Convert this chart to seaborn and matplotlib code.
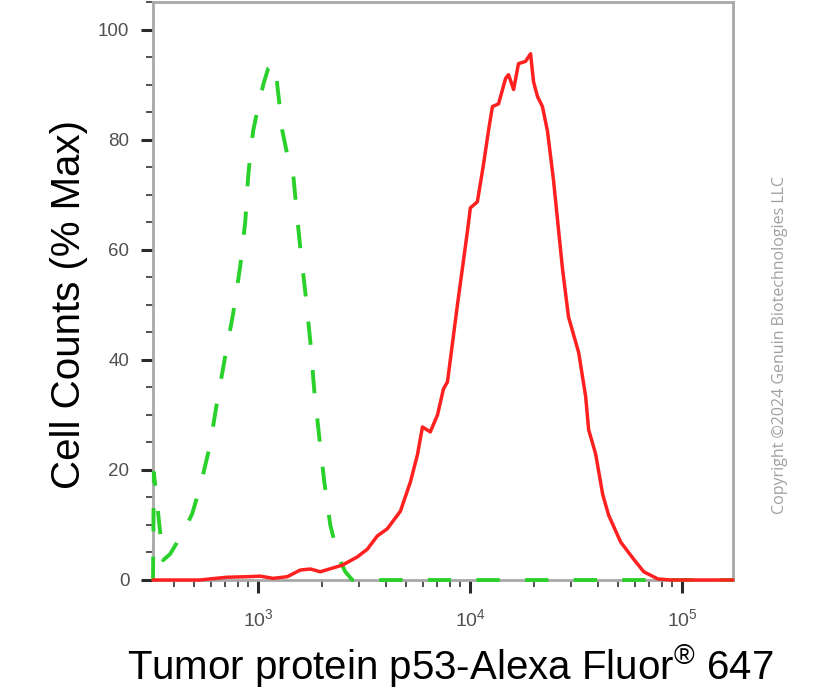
import matplotlib
matplotlib.use("Agg")
import matplotlib.pyplot as plt
import seaborn as sns
import numpy as np
from matplotlib.ticker import LogLocator, MultipleLocator, NullFormatter

# ---- data ----
green_x = [319, 322, 356, 384, 443, 488, 532, 593, 640, 698,
           762, 822, 869, 897, 916, 946, 989, 1057, 1114, 1202,
           1230, 1271, 1297, 1371, 1462, 1514, 1578, 1667, 1762, 1841,
           1941, 2051, 2188, 2388, 2576, 2780, 173780]
green_y = [0, 19.5, 3.6, 4.7, 8.7, 12, 16.9, 24.5, 32.4, 40.5,
           48.4, 56.9, 65.1, 73.3, 76.9, 81.5, 85.1, 90, 92.9, 93.8,
           90, 85.1, 81.8, 77.3, 73.8, 67.5, 60.5, 52.4, 43.3, 34.2,
           26, 17.8, 10, 4.2, 1.5, 0, 0]

red_x = [319, 532, 593, 714, 887, 1021, 1178, 1371, 1578, 1762,
         1963, 2259, 2495, 2938, 3273, 3648, 4064, 4688, 5224, 5636,
         5957, 6486, 7015, 7482, 7816, 8710, 9705, 10023, 10814, 11561,
         12190, 12735, 13614, 14689, 15171, 16032, 16904, 18239, 19275, 19907,
         20797, 21928, 23174, 24717, 26122, 27290, 29107, 32509, 35075, 36224,
         39084, 42170, 44978, 51286, 59020, 65917, 76736, 88308, 173780]
red_y = [0, 0, 0.2, 0.5, 0.6, 0.7, 0.3, 0.6, 1.8, 2.0,
         1.5, 2.2, 2.7, 4.2, 5.6, 8.0, 9.3, 12.5, 17.8, 22.7,
         27.8, 26.9, 30, 34.7, 36, 50, 63.3, 67.6, 68.7, 75.5,
         81.5, 86, 86.5, 91.1, 91.8, 89.1, 93.8, 94.2, 95.6, 90.5,
         87.8, 86, 81.5, 72.7, 63.6, 56.4, 47.8, 41.3, 33.3, 27.3,
         22.9, 15.6, 11.8, 6.9, 3.8, 1.5, 0.2, 0, 0]

y_ticks = [0, 20, 40, 60, 80, 100]
x_label = "Tumor protein p53-Alexa Fluor$^{\\mathrm{®}}$ 647"
y_label = "Cell Counts (% Max)"
copyright_text = "Copyright ©2024 Genuin Biotechnologies LLC"

# ---- style ----
sns.set_style("white")
plt.rcParams["font.family"] = ["Liberation Sans", "DejaVu Sans"]
plt.rcParams["mathtext.fontset"] = "custom"
plt.rcParams["mathtext.rm"] = "Liberation Sans"
plt.rcParams["mathtext.it"] = "Liberation Sans:italic"
plt.rcParams["mathtext.bf"] = "Liberation Sans:bold"

fig = plt.figure(figsize=(8.23, 6.90), dpi=100)
W, H = 823, 690
ax = fig.add_axes([153 / W, 1 - 580 / H, 580 / W, 578 / H])

sns.lineplot(x=green_x, y=green_y, ax=ax, color="#2BD12B", linewidth=2.8,
             linestyle=(0, (6, 6.5)), sort=False, estimator=None,
             clip_on=False, zorder=3)
sns.lineplot(x=red_x, y=red_y, ax=ax, color="#FF2020", linewidth=2.5,
             sort=False, estimator=None, clip_on=False, zorder=4)

ax.set_xscale("log")
ax.set_xlim(319, 173780)
ax.set_ylim(0, 105)

ax.xaxis.set_major_locator(LogLocator(base=10))
ax.xaxis.set_minor_locator(LogLocator(base=10, subs=np.arange(2, 10)))
ax.xaxis.set_minor_formatter(NullFormatter())
ax.set_yticks(y_ticks)
ax.yaxis.set_minor_locator(MultipleLocator(5))

ax.tick_params(axis="both", which="major", direction="out", length=9,
               width=2.2, color="#2a2a2a", labelcolor="#505050")
ax.tick_params(axis="both", which="minor", direction="out", length=5,
               width=1.3, color="#444444")
ax.tick_params(axis="y", which="major", pad=8, labelsize=13.5)
ax.tick_params(axis="x", which="major", pad=11, labelsize=14)
ax.tick_params(bottom=True, left=True, which="both")

for s in ax.spines.values():
    s.set_visible(True)
    s.set_color("#a8a8a8")
    s.set_linewidth(2)

ax.set_xlabel(x_label, fontsize=29, color="black")
ax.xaxis.set_label_coords(0.512, -0.108)
ax.set_ylabel(y_label, fontsize=29, color="black")
ax.yaxis.set_label_coords(-0.112, 0.477)

fig.text(780 / W, 0.5, copyright_text, rotation=90, ha="center", va="center",
         fontsize=11.5, color="#a0a0a0", family=["Open Sans", "DejaVu Sans"])

fig.savefig("out.png", dpi=100, facecolor="white")
